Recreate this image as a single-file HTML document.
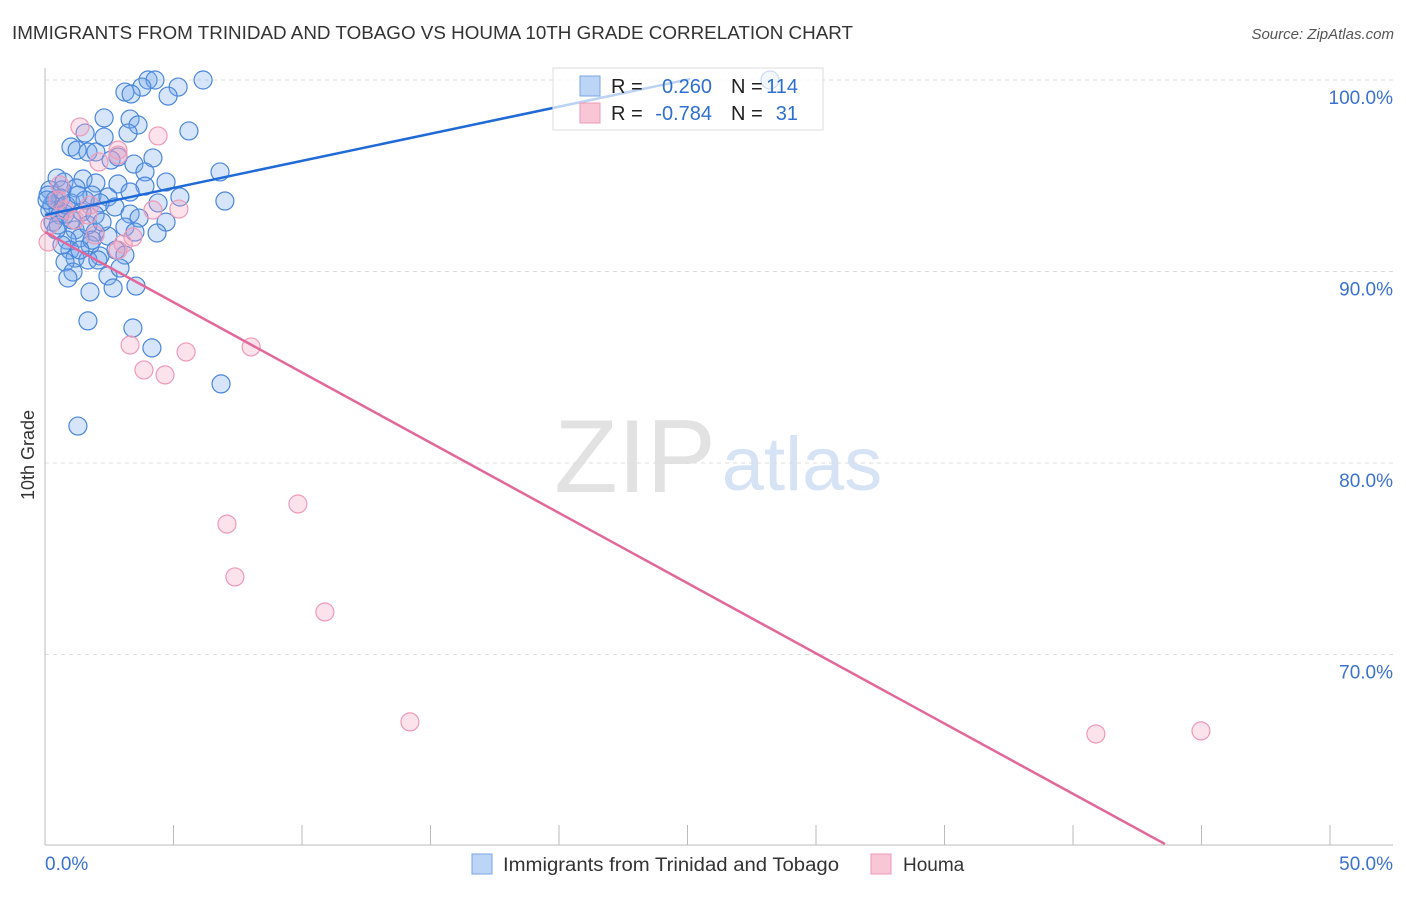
<!DOCTYPE html>
<html><head><meta charset="utf-8"><style>
body{margin:0;background:#fff;font-family:"Liberation Sans",sans-serif;}
svg text{font-family:"Liberation Sans",sans-serif;}
</style></head><body>
<svg id="chart" width="1406" height="892" xmlns="http://www.w3.org/2000/svg">
<text x="12" y="39" font-size="18" fill="#333" textLength="841" lengthAdjust="spacingAndGlyphs">IMMIGRANTS FROM TRINIDAD AND TOBAGO VS HOUMA 10TH GRADE CORRELATION CHART</text>
<text x="1394" y="39" font-size="15" fill="#555" text-anchor="end" font-style="italic">Source: ZipAtlas.com</text>
<text x="635" y="492" font-size="104" fill="#e2e2e2" font-family="Liberation Serif" text-anchor="middle">ZIP</text>
<text x="802" y="490" font-size="76" fill="#d6e3f5" text-anchor="middle">atlas</text>
<g id="grid"></g><g id="pts"></g><g id="lines"></g>
<text x="34" y="455" font-size="18" fill="#333" text-anchor="middle" transform="rotate(-90 34 455)">10th Grade</text>
<text x="45" y="870" font-size="19" fill="#3b72d0">0.0%</text>
<text x="1393" y="870" font-size="19" fill="#3b72d0" text-anchor="end">50.0%</text>
<g>
<rect x="553" y="68" width="270" height="62" fill="rgba(255,255,255,0.7)" stroke="#ddd"/>
<rect x="580" y="76" width="20" height="20" fill="#bcd4f5" stroke="#7aa6e6"/>
<rect x="580" y="103" width="20" height="20" fill="#f9c6d6" stroke="#ec9ab5"/>
<text x="611" y="93" font-size="20" fill="#222">R =</text>
<text x="712" y="93" font-size="20" fill="#2f6fd0" text-anchor="end">0.260</text>
<text x="731" y="93" font-size="20" fill="#222">N =</text>
<text x="798" y="93" font-size="20" fill="#2f6fd0" text-anchor="end">114</text>
<text x="611" y="120" font-size="20" fill="#222">R =</text>
<text x="712" y="120" font-size="20" fill="#2f6fd0" text-anchor="end">-0.784</text>
<text x="731" y="120" font-size="20" fill="#222">N =</text>
<text x="798" y="120" font-size="20" fill="#2f6fd0" text-anchor="end">31</text>
</g>
<g>
<rect x="472" y="854" width="20" height="20" fill="#bcd4f5" stroke="#7aa6e6"/>
<text x="503" y="871" font-size="19" fill="#333" textLength="336" lengthAdjust="spacingAndGlyphs">Immigrants from Trinidad and Tobago</text>
<rect x="871" y="854" width="20" height="20" fill="#f9c6d6" stroke="#ec9ab5"/>
<text x="903" y="871" font-size="19" fill="#333">Houma</text>
</g>
</svg>
<script>
const yTicks=[100,90,80,70];
const yTickLabels=["100.0%","90.0%","80.0%","70.0%"];
const xTicks=[0,5,10,15,20,25,30,35,40,45,50];
const bluePx=[[148,80],[155,80],[203,80],[770,80],[142,87],[178,87],[125,92],[131,94],[168,96],[104,118],[130,119],[138,125],[85,133],[128,133],[189,131],[104,137],[71,147],[77,150],[88,152],[96,152],[118,157],[153,158],[111,160],[134,164],[220,172],[145,172],[83,179],[57,178],[64,182],[118,184],[166,182],[96,183],[76,188],[50,190],[145,186],[130,192],[92,195],[108,197],[180,197],[225,201],[61,198],[71,203],[100,203],[115,207],[158,203],[52,205],[58,210],[130,214],[65,214],[139,218],[166,222],[125,227],[75,230],[95,232],[135,232],[157,233],[80,238],[67,240],[108,236],[90,245],[116,250],[70,250],[100,256],[75,258],[125,255],[65,262],[88,260],[98,260],[108,276],[120,268],[73,272],[68,278],[90,292],[113,288],[136,286],[88,321],[133,328],[152,348],[221,384],[78,426],[48,195],[50,210],[55,200],[60,215],[53,222],[47,200],[62,190],[66,205],[58,225],[72,220],[82,212],[88,225],[95,215],[102,222],[85,200],[78,195],[92,240],[80,250],[56,230],[62,245]];
const pinkPx=[[80,127],[158,136],[118,150],[99,162],[118,155],[60,185],[58,200],[65,210],[75,220],[88,215],[179,209],[153,210],[133,237],[123,244],[118,250],[48,242],[50,225],[95,235],[130,345],[186,352],[251,347],[144,370],[165,375],[298,504],[227,524],[235,577],[325,612],[410,722],[1096,734],[1201,731],[90,205]];
const blueX=bluePx.map(p=>+((p[0]-45)/25.7).toFixed(2));
const blueY=bluePx.map(p=>+(100-(p[1]-80)/19.15).toFixed(2));
const pinkX=pinkPx.map(p=>+((p[0]-45)/25.7).toFixed(2));
const pinkY=pinkPx.map(p=>+(100-(p[1]-80)/19.15).toFixed(2));
const blueTrend=[[0,92.95],[25.1,100.05]];
const pinkTrend=[[0,92.06],[43.58,60.1]];
const X=v=>45+v*25.7, Y=v=>80+(100-v)*19.15;
const NS="http://www.w3.org/2000/svg";
function mk(tag,attrs,parent){const e=document.createElementNS(NS,tag);for(const k in attrs)e.setAttribute(k,attrs[k]);parent.appendChild(e);return e;}
const grid=document.getElementById('grid'),pts=document.getElementById('pts'),lines=document.getElementById('lines');
yTicks.forEach((t,i)=>{
 const l=mk('line',{x1:45,x2:1393,y1:Y(t),y2:Y(t),stroke:'#ddd','stroke-dasharray':'4,4'},grid);
 
 
 const tx=mk('text',{x:1393,y:Y(t)+24,'font-size':19,fill:'#3b72d0','text-anchor':'end'},grid);
 tx.textContent=yTickLabels[i];
 
 
});
const ya=mk('line',{x1:45,x2:45,y1:68,y2:845,stroke:'#bbb'},grid);


const xa=mk('line',{x1:45,x2:1393,y1:845,y2:845,stroke:'#bbb'},grid);


xTicks.forEach(t=>{
 const l=mk('line',{x1:X(t),x2:X(t),y1:825,y2:845,stroke:'#bbb'},grid);
 
 
});
blueX.forEach((x,i)=>{
 const c=mk('circle',{cx:X(x),cy:Y(blueY[i]),r:9,fill:'rgba(120,170,235,0.3)',stroke:'#4a86dc','stroke-width':1.2},pts);
 
 
});
pinkX.forEach((x,i)=>{
 const c=mk('circle',{cx:X(x),cy:Y(pinkY[i]),r:9,fill:'rgba(245,160,190,0.3)',stroke:'#ee9ab6','stroke-width':1.2},pts);
 
 
});
const bl=mk('line',{x1:X(blueTrend[0][0]),y1:Y(blueTrend[0][1]),x2:X(blueTrend[1][0]),y2:Y(blueTrend[1][1]),stroke:'#1f6ad6','stroke-width':2.5},lines);


const pl=mk('line',{x1:X(pinkTrend[0][0]),y1:Y(pinkTrend[0][1]),x2:X(pinkTrend[1][0]),y2:Y(pinkTrend[1][1]),stroke:'#e2689a','stroke-width':2.5},lines);


</script>
</body></html>
